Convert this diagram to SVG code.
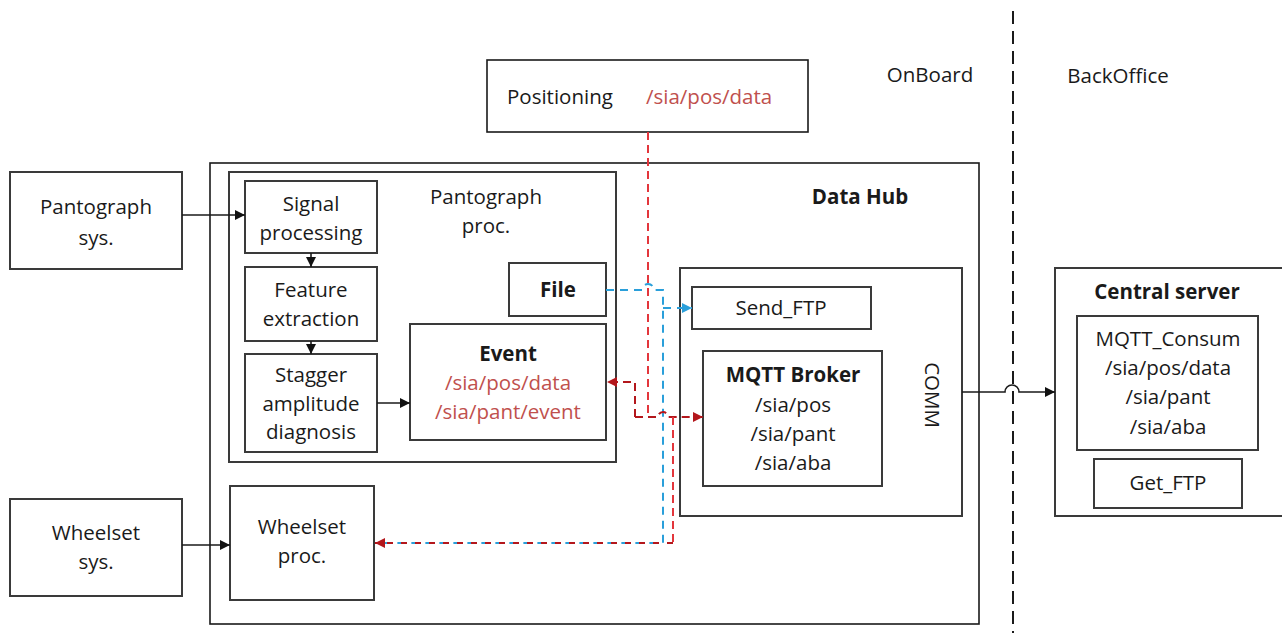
<svg xmlns="http://www.w3.org/2000/svg" width="1282" height="633" viewBox="0 0 1282 633">
  <style>
    .box { fill: #ffffff; stroke: #3a3a3a; stroke-width: 2; }
    .frame { fill: none; stroke: #1a1a1a; stroke-width: 1.6; }
    text { font-family: "Open Sans", "Liberation Sans", sans-serif; font-size: 20.5px; fill: #1a1a1a; text-anchor: middle; }
    .b { font-weight: bold; }
    .topic { fill: #C0504D; }
    .start { text-anchor: start; }
    .wire { fill: none; stroke: #1a1a1a; stroke-width: 1.6; }
    .red { fill: none; stroke: #E3363C; stroke-width: 2; stroke-dasharray: 8 5; }
    .dred { fill: none; stroke: #B3171C; stroke-width: 2; stroke-dasharray: 8 5; }
    .blue { fill: none; stroke: #2A9FDA; stroke-width: 2; stroke-dasharray: 8 6; }
  </style>
  <defs>
    <marker id="arrow" viewBox="0 0 10 10" refX="10" refY="5" markerWidth="10" markerHeight="11" markerUnits="userSpaceOnUse" orient="auto">
      <path d="M0,0 L10,5 L0,10 z" fill="#111111"/>
    </marker>
    <marker id="arrowRed" viewBox="0 0 10 10" refX="10" refY="5" markerWidth="10" markerHeight="12" markerUnits="userSpaceOnUse" orient="auto">
      <path d="M0,0 L10,5 L0,10 z" fill="#B3171C"/>
    </marker>
    <marker id="arrowBlue" viewBox="0 0 10 10" refX="10" refY="5" markerWidth="10" markerHeight="12" markerUnits="userSpaceOnUse" orient="auto">
      <path d="M0,0 L10,5 L0,10 z" fill="#2A9FDA"/>
    </marker>
  </defs>

  <rect width="1282" height="633" fill="#ffffff"/>

  <!-- OnBoard / BackOffice boundary -->
  <g id="boundary">
    <line x1="1013" y1="11" x2="1013" y2="633" stroke="#1a1a1a" stroke-width="2" stroke-dasharray="13 7"/>
    <text x="930" y="82">OnBoard</text>
    <text x="1118" y="83">BackOffice</text>
  </g>

  <!-- Data Hub container -->
  <g id="data-hub">
    <rect class="frame" x="210" y="163" width="769" height="461"/>
    <text class="b" x="860" y="204">Data Hub</text>
  </g>

  <g id="positioning">
    <rect class="frame" x="487" y="60" width="321" height="72"/>
    <text class="start" x="507" y="104">Positioning</text>
    <text class="start topic" x="646" y="104">/sia/pos/data</text>
  </g>

  <g id="pantograph-sys">
    <rect class="box" x="10" y="172" width="172" height="97"/>
    <text x="96" y="214">Pantograph</text>
    <text x="96" y="245">sys.</text>
  </g>

  <g id="wheelset-sys">
    <rect class="box" x="10" y="499" width="172" height="97"/>
    <text x="96" y="540">Wheelset</text>
    <text x="96" y="569">sys.</text>
  </g>

  <g id="pantograph-proc">
    <rect class="box" x="229" y="172" width="387" height="290"/>
    <text x="486" y="204">Pantograph</text>
    <text x="486" y="233">proc.</text>
  </g>

  <g id="signal-processing">
    <rect class="box" x="245" y="181" width="132" height="72"/>
    <text x="311" y="211">Signal</text>
    <text x="311" y="240">processing</text>
  </g>

  <g id="feature-extraction">
    <rect class="box" x="245" y="267" width="132" height="74"/>
    <text x="311" y="297">Feature</text>
    <text x="311" y="326">extraction</text>
  </g>

  <g id="stagger-diagnosis">
    <rect class="box" x="245" y="354" width="132" height="98"/>
    <text x="311" y="382">Stagger</text>
    <text x="311" y="411">amplitude</text>
    <text x="311" y="439">diagnosis</text>
  </g>

  <g id="file">
    <rect class="box" x="509" y="263" width="97" height="53"/>
    <text class="b" x="558" y="297">File</text>
  </g>

  <g id="event">
    <rect class="box" x="410" y="324" width="196" height="116"/>
    <text class="b" x="508" y="361">Event</text>
    <text class="topic" x="508" y="390">/sia/pos/data</text>
    <text class="topic" x="508" y="419">/sia/pant/event</text>
  </g>

  <g id="wheelset-proc">
    <rect class="box" x="230" y="486" width="144" height="114"/>
    <text x="302" y="534">Wheelset</text>
    <text x="302" y="563">proc.</text>
  </g>

  <g id="comm">
    <rect class="box" x="680" y="268" width="282" height="248"/>
    <text transform="translate(925 395) rotate(90)">COMM</text>
  </g>

  <g id="send-ftp">
    <rect class="box" x="692" y="287" width="179" height="42"/>
    <text x="781" y="315">Send_FTP</text>
  </g>

  <g id="mqtt-broker">
    <rect class="box" x="703" y="351" width="179" height="135"/>
    <text class="b" x="793" y="382">MQTT Broker</text>
    <text x="793" y="412">/sia/pos</text>
    <text x="793" y="441">/sia/pant</text>
    <text x="793" y="470">/sia/aba</text>
  </g>

  <g id="central-server">
    <rect class="box" x="1055" y="268" width="240" height="248"/>
    <text class="b" x="1167" y="299">Central server</text>
  </g>

  <g id="mqtt-consum">
    <rect class="box" x="1077" y="316" width="181" height="134"/>
    <text x="1168" y="346">MQTT_Consum</text>
    <text x="1168" y="375">/sia/pos/data</text>
    <text x="1168" y="404">/sia/pant</text>
    <text x="1168" y="434">/sia/aba</text>
  </g>

  <g id="get-ftp">
    <rect class="box" x="1094" y="459" width="148" height="49"/>
    <text x="1168" y="490">Get_FTP</text>
  </g>

  <!-- Connectors -->
  <g id="connectors">
    <path class="wire" d="M182,215 H245" marker-end="url(#arrow)"/>
    <path class="wire" d="M311,253 V267" marker-end="url(#arrow)"/>
    <path class="wire" d="M311,341 V354" marker-end="url(#arrow)"/>
    <path class="wire" d="M377,403 H410" marker-end="url(#arrow)"/>
    <path class="wire" d="M182,545 H230" marker-end="url(#arrow)"/>
    <path class="wire" d="M962,392 H1005 A7,7 0 0 1 1019,392 H1055" marker-end="url(#arrow)"/>

    <!-- file transfer (blue) -->
    <path class="blue" d="M606,290 H642 A6,6 0 0 1 654,290 H663 V543 H376"/>
    <path class="blue" d="M663,308 H692" marker-end="url(#arrowBlue)"/>

    <!-- topic flow (red) -->
    <path class="red" d="M648,132 V417"/>
    <path class="dred" d="M635,417 H658 A5,5 0 0 1 668,417 H703" marker-end="url(#arrowRed)"/>
    <path class="dred" d="M635,417 V382 H607" marker-end="url(#arrowRed)"/>
    <path class="red" d="M673,417 V543"/>
    <path class="dred" style="stroke-dasharray: 6 8; stroke-dashoffset: 0" d="M673,543 H375" marker-end="url(#arrowRed)"/>
  </g>
</svg>
